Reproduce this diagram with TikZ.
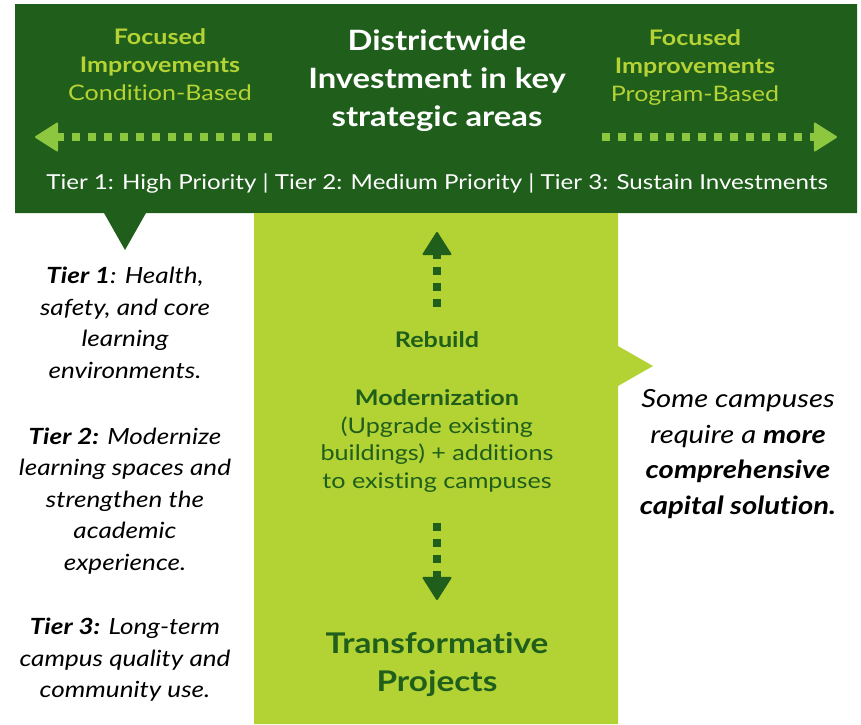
\documentclass[tikz,border=0pt]{standalone}
\usepackage{fontspec}
\setmainfont{Lato}[FakeStretch=1.17,Ligatures=CommonOff]
\usetikzlibrary{arrows.meta}
\definecolor{bannergreen}{HTML}{1F5E1B}
\definecolor{columngreen}{HTML}{B3D335}
\definecolor{arrowgreen}{HTML}{8DC63F}
\definecolor{focusgreen}{HTML}{B5D334}
\tikzset{
  >={Triangle[length=24pt,width=30pt,line width=2pt,round]},
  dotarrow/.style={->, line width=8pt, dash pattern=on 8pt off 8pt},
  focus/.style={text=focusgreen, align=center, font=\fontsize{21.4}{28}\selectfont},
  headline/.style={text=white, align=center, font=\bfseries\fontsize{28}{38}\selectfont},
  stage/.style={text=bannergreen, align=center, font=\fontsize{21.5}{27.5}\selectfont},
  note/.style={text=black, align=center, font=\itshape\fontsize{22.3}{31.5}\selectfont},
}
\begin{document}
\begin{tikzpicture}[x=1pt,y=-1pt]
      \useasboundingbox (0,0) rectangle (861,724);

      % banner and column, with their pointers
      \fill[bannergreen] (15,4) -- (857,4) -- (857,213) -- (146,213) -- (125,250) -- (104,213) -- (15,213) -- cycle;
      \fill[columngreen] (254,213) -- (618,213) -- (618,346) -- (653,366) -- (618,386) -- (618,724) -- (254,724) -- cycle;

      % banner texts
      \node[focus] (focusl) at (160,65) {\textbf{Focused}\\\textbf{Improvements}\\Condition-Based};
      \node[headline] (title) at (437,81) {Districtwide\\Investment in key\\strategic areas};
      \node[focus] (focusr) at (695,67) {\textbf{Focused}\\\textbf{Improvements}\\Program-Based};
      \node[text=white, font=\fontsize{20.6}{24}\selectfont] (tiers) at (437,183.5) {Tier 1: High Priority | Tier 2: Medium Priority | Tier 3: Sustain Investments};

      \coordinate (lstart) at (272,137); \coordinate (ltip) at (35,137);
      \coordinate (rstart) at (602,137); \coordinate (rtip) at (837,137);
      \draw[dotarrow, arrowgreen] (lstart) -- (ltip);
      \draw[dotarrow, arrowgreen] (rstart) -- (rtip);

      % column texts
      \node[stage, font=\bfseries\fontsize{21.5}{27.5}\selectfont] (rebuild) at (437,340) {Rebuild};
      \node[stage] (modern) at (437,441) {\textbf{Modernization}\\(Upgrade existing\\buildings) + additions\\to existing campuses};
      \node[stage, font=\bfseries\fontsize{28.5}{38}\selectfont] (transform) at (437,664) {Transformative\\Projects};

      \coordinate (ustart) at (437,307); \coordinate (utip) at (437,232);
      \coordinate (dstart) at (437,523); \coordinate (dtip) at (437,600);
      \draw[dotarrow, bannergreen] (ustart) -- (utip);
      \draw[dotarrow, bannergreen] (dstart) -- (dtip);

      % side notes
      \node[note] (tierone) at (125,323) {\textbf{Tier 1}: Health,\\safety, and core\\learning\\environments.};
      \node[note] (tiertwo) at (125,501) {\textbf{Tier 2:} Modernize\\learning spaces and\\strengthen the\\academic\\experience.};
      \node[note] (tierthree) at (125,660) {\textbf{Tier 3:} Long-term\\campus quality and\\community use.};
      \node[note, font=\itshape\fontsize{25}{35.5}\selectfont] (campuses) at (738,454) {Some campuses\\require a \textbf{more}\\\textbf{comprehensive}\\\textbf{capital solution.}};
    \end{tikzpicture}
\end{document}
